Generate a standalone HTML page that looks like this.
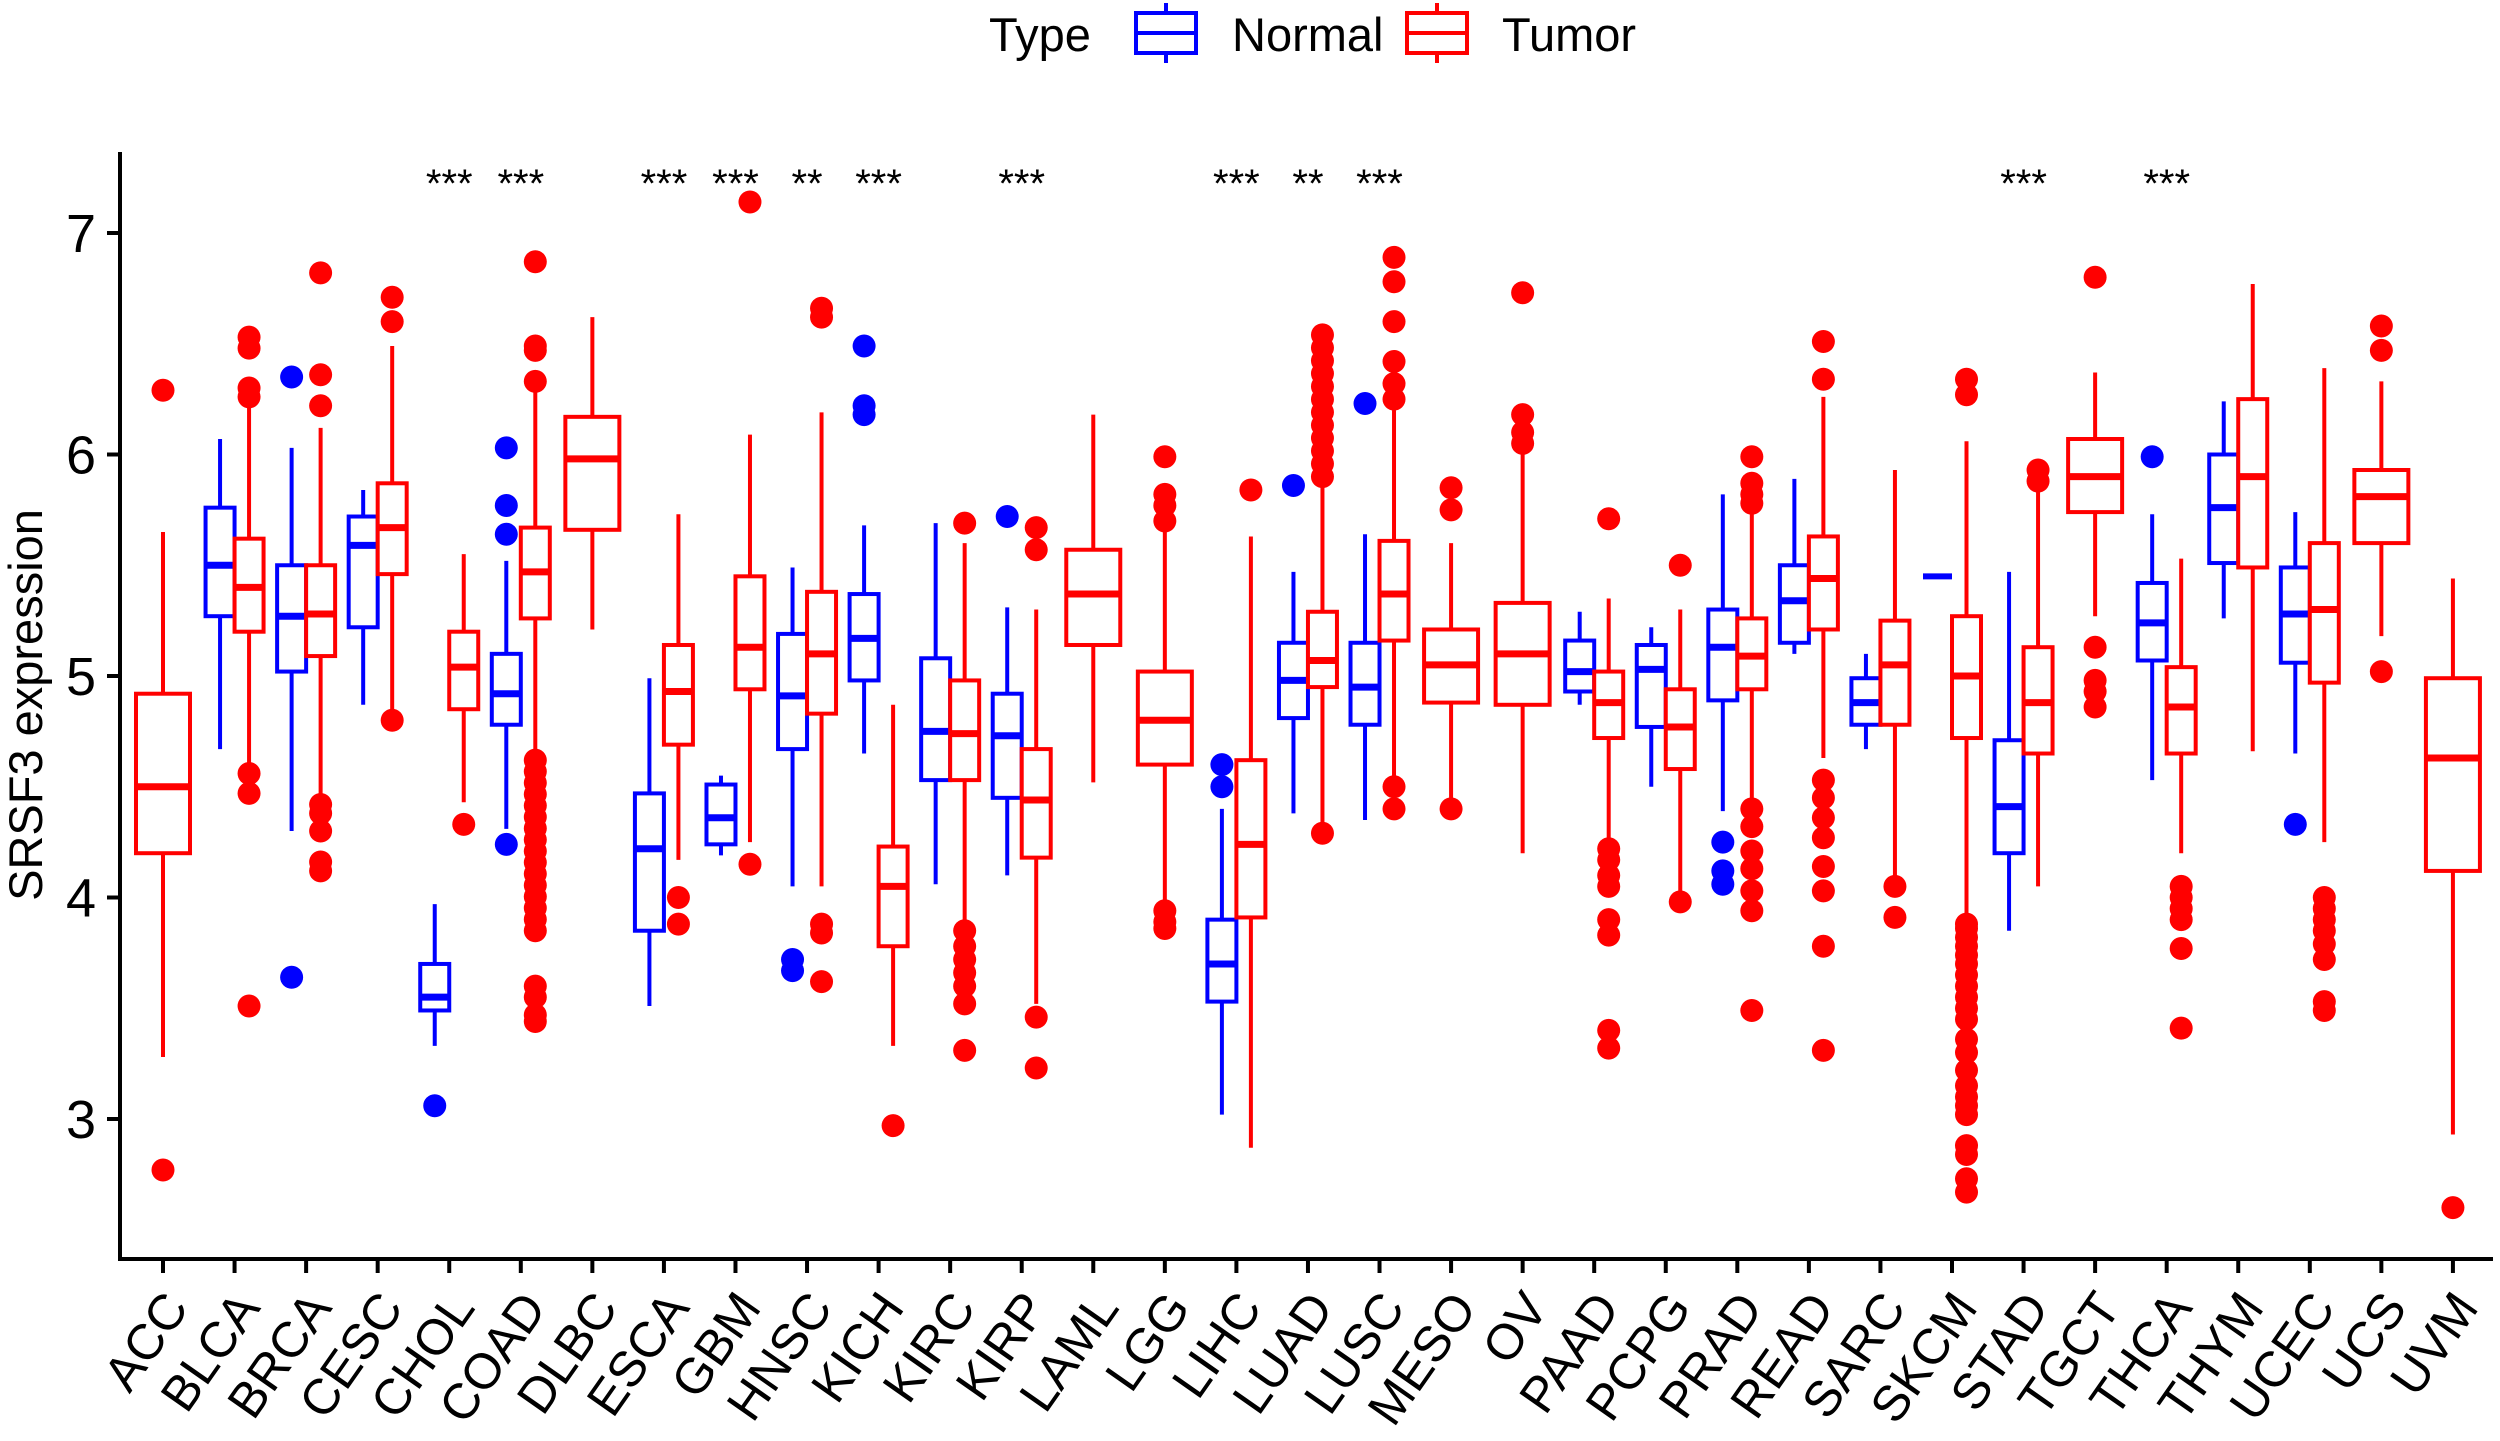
<!DOCTYPE html>
<html><head><meta charset="utf-8">
<style>html,body{margin:0;padding:0;background:#fff}svg{display:block}text{font-family:"Liberation Sans",Arial,sans-serif}</style>
</head><body>
<svg id="s" xmlns="http://www.w3.org/2000/svg" width="2500" height="1441" viewBox="0 0 2500 1441">
<rect width="2500" height="1441" fill="#fff"/>
<g id="legend">
<text x="989" y="51" font-size="47">Type</text>
<line x1="1166" y1="3" x2="1166" y2="63" stroke="#0000FF" stroke-width="4"/>
<rect x="1136" y="13" width="60" height="40" fill="#fff" stroke="#0000FF" stroke-width="4"/>
<line x1="1136" y1="33" x2="1196" y2="33" stroke="#0000FF" stroke-width="4"/>
<text x="1232" y="51" font-size="47">Normal</text>
<line x1="1437" y1="3" x2="1437" y2="63" stroke="#FF0000" stroke-width="4"/>
<rect x="1407" y="13" width="60" height="40" fill="#fff" stroke="#FF0000" stroke-width="4"/>
<line x1="1407" y1="33" x2="1467" y2="33" stroke="#FF0000" stroke-width="4"/>
<text x="1502" y="51" font-size="47">Tumor</text>
</g>
<g id="plot"></g>
</svg>
<script>
var NS="http://www.w3.org/2000/svg";
var g=document.getElementById("plot");
function el(t,a,txt){var e=document.createElementNS(NS,t);for(var k in a)e.setAttribute(k,a[k]);if(txt!==undefined)e.textContent=txt;g.appendChild(e);return e;}
function Y(v){return 233+(7-v)*221.5;}
function X(i){return 163+i*71.56;}
var cats=["ACC","BLCA","BRCA","CESC","CHOL","COAD","DLBC","ESCA","GBM","HNSC","KICH","KIRC","KIRP","LAML","LGG","LIHC","LUAD","LUSC","MESO","OV","PAAD","PCPG","PRAD","READ","SARC","SKCM","STAD","TGCT","THCA","THYM","UCEC","UCS","UVM"];
var range=function(a,b,n){var r=[];for(var i=0;i<n;i++)r.push(a+(b-a)*i/(n-1));return r;};
var D={
ACC:{T:[4.2,4.5,4.92,3.28,5.65,[6.29,2.77]]},
BLCA:{N:[5.27,5.5,5.76,4.67,6.07,[]],T:[5.2,5.4,5.62,4.57,6.25,[6.53,6.48,6.3,6.26,4.56,4.47,3.51]]},
BRCA:{N:[5.02,5.27,5.5,4.3,6.03,[6.35,3.64]],T:[5.09,5.28,5.5,4.45,6.12,[6.82,6.36,6.22,4.42,4.38,4.3,4.16,4.12]]},
CESC:{N:[5.22,5.59,5.72,4.87,5.84,[]],T:[5.46,5.67,5.87,4.82,6.49,[6.71,6.6,4.8]]},
CHOL:{N:[3.49,3.55,3.7,3.33,3.97,[3.06]],T:[4.85,5.04,5.2,4.43,5.55,[4.33]]},
COAD:{N:[4.78,4.92,5.1,4.31,5.52,[6.03,5.77,5.64,4.24]],T:[5.26,5.47,5.67,4.65,6.3,[6.87,6.49,6.47,6.33,3.6,3.55,3.47,3.44].concat(range(3.85,4.62,16))]},
DLBC:{T:[5.66,5.98,6.17,5.21,6.62,[]]},
ESCA:{N:[3.85,4.22,4.47,3.51,4.99,[]],T:[4.69,4.93,5.14,4.17,5.73,[4.0,3.88]]},
GBM:{N:[4.24,4.36,4.51,4.19,4.55,[]],T:[4.94,5.13,5.45,4.25,6.09,[7.14,4.15]]},
HNSC:{N:[4.67,4.91,5.19,4.05,5.49,[3.72,3.67]],T:[4.83,5.1,5.38,4.05,6.19,[6.66,6.62,3.88,3.84,3.62]]},
KICH:{N:[4.98,5.17,5.37,4.65,5.68,[6.49,6.22,6.18]],T:[3.78,4.05,4.23,3.33,4.87,[2.97]]},
KIRC:{N:[4.53,4.75,5.08,4.06,5.69,[]],T:[4.53,4.74,4.98,3.9,5.6,[5.69,3.85,3.78,3.72,3.66,3.6,3.52,3.31]]},
KIRP:{N:[4.45,4.73,4.92,4.1,5.31,[5.72]],T:[4.18,4.44,4.67,3.52,5.3,[5.67,5.57,3.46,3.23]]},
LAML:{T:[5.14,5.37,5.57,4.52,6.18,[]]},
LGG:{T:[4.6,4.8,5.02,3.98,5.65,[5.99,5.82,5.77,5.7,3.94,3.89,3.86]]},
LIHC:{N:[3.53,3.7,3.9,3.02,4.4,[4.6,4.5]],T:[3.91,4.24,4.62,2.87,5.63,[5.84]]},
LUAD:{N:[4.81,4.98,5.15,4.38,5.47,[5.86]],T:[4.95,5.07,5.29,4.3,5.85,[4.29].concat(range(5.9,6.54,12))]},
LUSC:{N:[4.78,4.95,5.15,4.35,5.64,[6.23]],T:[5.16,5.37,5.61,4.55,6.2,[6.89,6.78,6.6,6.42,6.32,6.25,4.5,4.4]]},
MESO:{T:[4.88,5.05,5.21,4.4,5.6,[5.85,5.75,4.4]]},
OV:{T:[4.87,5.1,5.33,4.2,6.0,[6.73,6.18,6.1,6.05]]},
PAAD:{N:[4.93,5.02,5.16,4.87,5.29,[]],T:[4.72,4.88,5.02,4.25,5.35,[5.71,4.22,4.17,4.1,4.05,3.9,3.83,3.4,3.32]]},
PCPG:{N:[4.77,5.03,5.14,4.5,5.22,[]],T:[4.58,4.77,4.94,4.0,5.3,[5.5,3.98]]},
PRAD:{N:[4.89,5.13,5.3,4.39,5.82,[4.25,4.12,4.06]],T:[4.94,5.09,5.26,4.45,5.74,[5.99,5.87,5.82,5.78,4.4,4.32,4.21,4.13,4.03,3.94,3.49]]},
READ:{N:[5.15,5.34,5.5,5.1,5.89,[]],T:[5.21,5.44,5.63,4.63,6.26,[6.51,6.34,4.53,4.45,4.36,4.27,4.14,4.03,3.78,3.31]]},
SARC:{N:[4.78,4.88,4.99,4.67,5.1,[]],T:[4.78,5.05,5.25,4.06,5.93,[4.05,3.91]]},
SKCM:{N:[5.45,5.45,5.45,5.45,5.45,[]],T:[4.72,5.0,5.27,3.9,6.06,[6.34,6.27,2.67,2.73,2.84,2.88,3.02,3.06,3.1,3.15,3.22,3.3,3.36,3.45,3.5,3.55,3.6,3.65,3.7,3.74,3.78,3.82,3.86,3.88]]},
STAD:{N:[4.2,4.41,4.71,3.85,5.47,[]],T:[4.65,4.88,5.13,4.05,5.87,[5.93,5.88]]},
TGCT:{T:[5.74,5.9,6.07,5.27,6.37,[6.8,5.13,4.98,4.93,4.86]]},
THCA:{N:[5.07,5.24,5.42,4.53,5.73,[5.99]],T:[4.65,4.86,5.04,4.2,5.53,[4.05,4.0,3.95,3.9,3.77,3.41]]},
THYM:{N:[5.51,5.76,6.0,5.26,6.24,[]],T:[5.49,5.9,6.25,4.66,6.77,[]]},
UCEC:{N:[5.06,5.28,5.49,4.65,5.74,[4.33]],T:[4.97,5.3,5.6,4.25,6.39,[4.0,3.95,3.9,3.85,3.79,3.72,3.53,3.49]]},
UCS:{T:[5.6,5.81,5.93,5.18,6.33,[6.58,6.47,5.02]]},
UVM:{T:[4.12,4.63,4.99,2.93,5.44,[2.6]]}
};
var stars={CHOL:"***",COAD:"***",ESCA:"***",GBM:"***",HNSC:"**",KICH:"***",KIRP:"***",LIHC:"***",LUAD:"**",LUSC:"***",STAD:"***",THCA:"***"};
function box(cx,w,d,col){
  var sw=4;
  el("line",{x1:cx,x2:cx,y1:Y(d[4]),y2:Y(d[3]),stroke:col,"stroke-width":sw});
  if(d[0]===d[2]){el("line",{x1:cx-w/2,x2:cx+w/2,y1:Y(d[1]),y2:Y(d[1]),stroke:col,"stroke-width":6});}
  else{
  el("rect",{x:cx-w/2,y:Y(d[2]),width:w,height:Y(d[0])-Y(d[2]),fill:"#fff",stroke:col,"stroke-width":sw});
  el("line",{x1:cx-w/2,x2:cx+w/2,y1:Y(d[1]),y2:Y(d[1]),stroke:col,"stroke-width":7});}
  d[5].forEach(function(v){el("circle",{cx:cx,cy:Y(v),r:11.5,fill:col});});
}
cats.forEach(function(c,i){
  var x=X(i),d=D[c];
  if(d.N&&d.T){box(x-14.5,29,d.N,"#0000FF");box(x+14.5,29,d.T,"#FF0000");}
  else box(x,54,d.T,"#FF0000");
  el("line",{x1:x,x2:x,y1:1259,y2:1273,stroke:"#000","stroke-width":4});
  el("text",{x:x+27,y:1308,"font-size":50,"text-anchor":"end",transform:"rotate(-55 "+(x+27)+" 1308)"},c);
  if(stars[c])el("text",{x:x,y:197,"font-size":40,"text-anchor":"middle"},stars[c]);
});
el("line",{x1:120,x2:120,y1:152,y2:1261,stroke:"#000","stroke-width":4});
el("line",{x1:118,x2:2493,y1:1259,y2:1259,stroke:"#000","stroke-width":4});
[3,4,5,6,7].forEach(function(v){
  el("line",{x1:107,x2:120,y1:Y(v),y2:Y(v),stroke:"#000","stroke-width":4});
  el("text",{x:96,y:Y(v)+19,"font-size":54,"text-anchor":"end"},String(v));
});
el("text",{x:42,y:705,"font-size":47,"text-anchor":"middle",transform:"rotate(-90 42 705)"},"SRSF3 expression");
</script>
</body></html>
